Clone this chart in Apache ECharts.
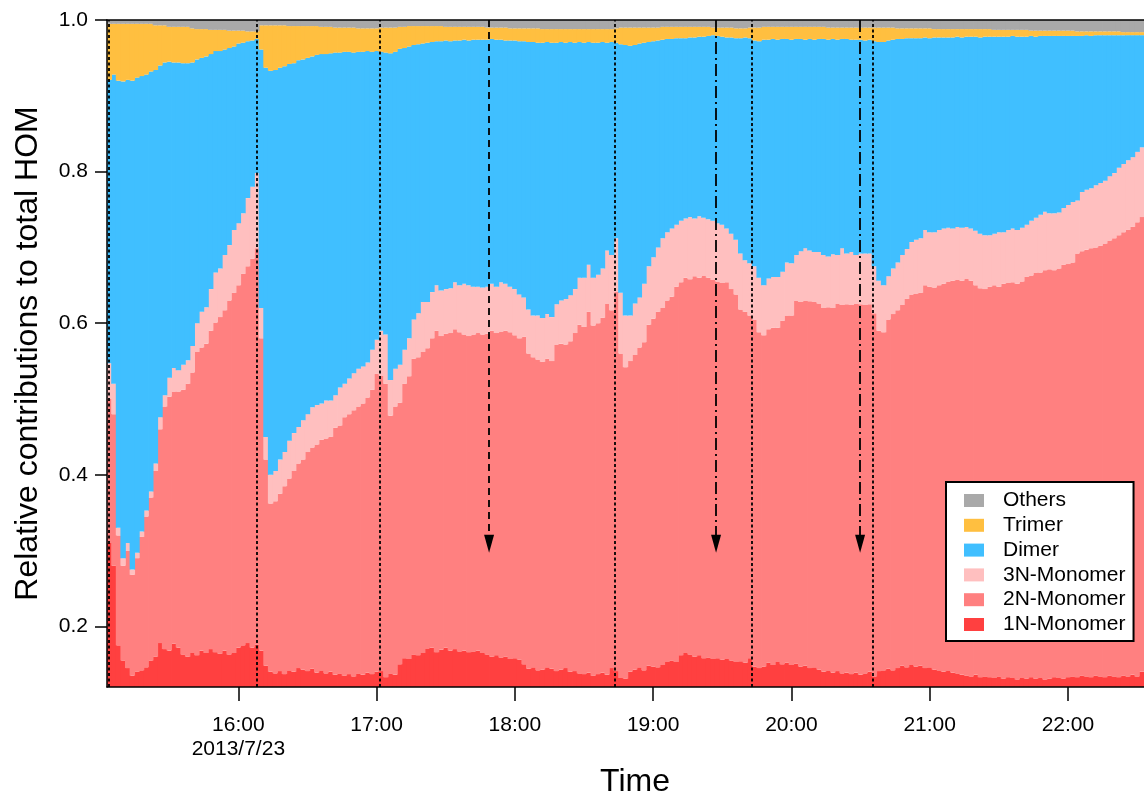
<!DOCTYPE html>
<html><head><meta charset="utf-8">
<script src="https://cdn.jsdelivr.net/npm/echarts@6/dist/echarts.min.js"></script>
<style>html,body{margin:0;padding:0;background:#fff}#c{width:1144px;height:794px}</style>
</head><body><div id="c"></div>
<script>
// Sampling grid: first sample 15:04, one sample every 2 minutes (minutes counted from 15:00)
const startMinute = 4;
const stepMinutes = 2;
const dateLabel = '2013/7/23';

// Cumulative fractions (top edge of each stacked group)
const cum1N = [
0.31,0.28,0.175,0.155,0.145,0.135,0.14,0.142,0.146,0.155,
0.16,0.178,0.17,0.168,0.177,0.172,0.163,0.16,0.165,0.162,
0.168,0.165,0.17,0.166,0.164,0.168,0.163,0.165,0.172,0.175,
0.178,0.172,0.176,0.168,0.148,0.14,0.138,0.141,0.137,0.142,
0.14,0.145,0.143,0.141,0.144,0.139,0.142,0.138,0.14,0.136,
0.138,0.135,0.137,0.134,0.138,0.136,0.139,0.137,0.14,0.141,
0.133,0.138,0.136,0.15,0.158,0.157,0.163,0.162,0.165,0.171,
0.172,0.166,0.169,0.172,0.168,0.17,0.167,0.168,0.166,0.167,
0.168,0.165,0.163,0.16,0.162,0.159,0.16,0.157,0.158,0.156,
0.15,0.144,0.146,0.142,0.143,0.146,0.144,0.141,0.143,0.145,
0.14,0.141,0.138,0.137,0.139,0.135,0.137,0.139,0.136,0.145,
0.141,0.132,0.131,0.14,0.143,0.146,0.142,0.148,0.147,0.146,
0.149,0.153,0.155,0.153,0.162,0.165,0.163,0.16,0.162,0.158,
0.159,0.157,0.158,0.156,0.157,0.155,0.153,0.154,0.152,0.158,
0.147,0.145,0.147,0.152,0.149,0.153,0.15,0.152,0.149,0.151,
0.147,0.148,0.145,0.146,0.143,0.14,0.142,0.139,0.141,0.138,
0.139,0.137,0.139,0.136,0.138,0.14,0.134,0.141,0.142,0.144,
0.142,0.145,0.148,0.146,0.149,0.147,0.148,0.145,0.146,0.143,
0.142,0.14,0.142,0.139,0.138,0.136,0.135,0.134,0.136,0.133,
0.134,0.133,0.132,0.134,0.131,0.133,0.132,0.13,0.132,0.131,
0.133,0.131,0.132,0.13,0.131,0.133,0.132,0.131,0.133,0.134,
0.133,0.135,0.134,0.133,0.135,0.134,0.133,0.135,0.134,0.133,
0.135,0.134,0.136,0.134,0.14];

const cum2N = [
0.50,0.48,0.32,0.28,0.30,0.268,0.29,0.318,0.345,0.37,
0.405,0.46,0.49,0.503,0.51,0.51,0.512,0.52,0.535,0.562,
0.568,0.573,0.59,0.601,0.608,0.617,0.63,0.64,0.65,0.665,
0.675,0.685,0.699,0.58,0.42,0.362,0.365,0.375,0.385,0.395,
0.405,0.415,0.42,0.43,0.436,0.44,0.446,0.448,0.45,0.462,
0.465,0.476,0.48,0.485,0.49,0.494,0.502,0.512,0.533,0.531,
0.52,0.478,0.49,0.495,0.52,0.53,0.553,0.555,0.562,0.567,
0.58,0.59,0.583,0.586,0.587,0.592,0.588,0.585,0.583,0.585,
0.587,0.585,0.586,0.59,0.587,0.589,0.59,0.588,0.584,0.58,
0.582,0.56,0.555,0.552,0.549,0.553,0.55,0.572,0.573,0.572,
0.576,0.587,0.598,0.595,0.615,0.597,0.6,0.607,0.626,0.617,
0.641,0.56,0.542,0.55,0.558,0.568,0.575,0.598,0.606,0.615,
0.62,0.63,0.635,0.648,0.654,0.66,0.658,0.662,0.66,0.663,
0.66,0.657,0.655,0.653,0.654,0.645,0.638,0.618,0.615,0.61,
0.605,0.588,0.584,0.592,0.594,0.594,0.603,0.61,0.61,0.63,
0.628,0.63,0.629,0.628,0.626,0.62,0.621,0.62,0.626,0.624,
0.625,0.624,0.626,0.625,0.624,0.625,0.613,0.59,0.588,0.605,
0.612,0.617,0.624,0.632,0.638,0.639,0.64,0.65,0.648,0.647,
0.65,0.652,0.655,0.656,0.657,0.656,0.659,0.656,0.65,0.646,
0.645,0.648,0.65,0.648,0.652,0.653,0.654,0.652,0.655,0.661,
0.663,0.667,0.667,0.67,0.671,0.67,0.672,0.677,0.678,0.68,
0.692,0.695,0.697,0.699,0.70,0.702,0.705,0.709,0.712,0.716,
0.72,0.723,0.727,0.733,0.74];

const cum3N = [
0.547,0.52,0.33,0.29,0.31,0.275,0.297,0.325,0.353,0.378,
0.415,0.476,0.505,0.528,0.541,0.538,0.545,0.551,0.57,0.60,
0.615,0.621,0.645,0.667,0.672,0.69,0.703,0.723,0.732,0.745,
0.765,0.78,0.798,0.62,0.45,0.40,0.405,0.42,0.43,0.445,
0.455,0.463,0.472,0.48,0.489,0.492,0.494,0.498,0.498,0.505,
0.515,0.52,0.527,0.534,0.54,0.543,0.548,0.565,0.578,0.59,
0.585,0.525,0.54,0.545,0.565,0.58,0.605,0.613,0.628,0.628,
0.641,0.65,0.643,0.645,0.646,0.654,0.65,0.652,0.65,0.648,
0.648,0.647,0.648,0.652,0.648,0.654,0.652,0.648,0.645,0.638,
0.634,0.618,0.61,0.61,0.607,0.612,0.608,0.625,0.63,0.632,
0.637,0.645,0.66,0.66,0.677,0.66,0.664,0.672,0.696,0.69,
0.712,0.64,0.61,0.61,0.626,0.634,0.652,0.675,0.687,0.70,
0.712,0.72,0.725,0.73,0.735,0.738,0.74,0.738,0.741,0.739,
0.737,0.735,0.732,0.73,0.725,0.718,0.71,0.692,0.683,0.679,
0.675,0.66,0.65,0.659,0.661,0.661,0.668,0.68,0.679,0.69,
0.695,0.699,0.696,0.694,0.694,0.69,0.688,0.691,0.69,0.699,
0.692,0.694,0.69,0.692,0.692,0.692,0.675,0.656,0.65,0.662,
0.672,0.68,0.69,0.698,0.707,0.71,0.712,0.723,0.72,0.72,
0.723,0.725,0.726,0.725,0.727,0.726,0.727,0.725,0.722,0.718,
0.716,0.716,0.718,0.72,0.72,0.723,0.725,0.723,0.726,0.73,
0.735,0.739,0.743,0.747,0.745,0.745,0.746,0.752,0.756,0.76,
0.762,0.773,0.776,0.778,0.782,0.785,0.788,0.794,0.798,0.805,
0.81,0.815,0.819,0.826,0.832];

const cumDimer = [
0.921,0.928,0.92,0.919,0.921,0.92,0.924,0.926,0.928,0.932,
0.934,0.94,0.944,0.945,0.944,0.944,0.943,0.943,0.944,0.948,
0.95,0.952,0.955,0.959,0.959,0.961,0.963,0.965,0.969,0.97,
0.972,0.973,0.975,0.961,0.937,0.933,0.934,0.937,0.939,0.942,
0.943,0.947,0.948,0.95,0.952,0.954,0.955,0.955,0.956,0.957,
0.957,0.958,0.958,0.957,0.958,0.958,0.959,0.958,0.959,0.958,
0.957,0.956,0.958,0.962,0.963,0.965,0.967,0.968,0.969,0.97,
0.971,0.972,0.972,0.973,0.972,0.973,0.973,0.974,0.973,0.974,
0.974,0.974,0.974,0.975,0.974,0.974,0.973,0.973,0.973,0.972,
0.972,0.971,0.971,0.97,0.97,0.971,0.97,0.97,0.971,0.97,
0.971,0.97,0.971,0.97,0.971,0.97,0.97,0.971,0.97,0.971,
0.97,0.968,0.967,0.966,0.967,0.969,0.97,0.971,0.972,0.973,
0.974,0.975,0.975,0.976,0.976,0.976,0.977,0.977,0.978,0.978,
0.979,0.98,0.979,0.978,0.977,0.977,0.976,0.976,0.977,0.976,
0.973,0.972,0.974,0.974,0.975,0.974,0.975,0.975,0.974,0.975,
0.975,0.974,0.975,0.974,0.975,0.975,0.974,0.975,0.974,0.975,
0.975,0.974,0.974,0.974,0.973,0.974,0.972,0.971,0.971,0.973,
0.974,0.975,0.975,0.976,0.976,0.976,0.976,0.977,0.976,0.977,
0.977,0.977,0.977,0.977,0.978,0.977,0.978,0.978,0.978,0.977,
0.978,0.978,0.978,0.978,0.978,0.978,0.979,0.978,0.978,0.978,
0.979,0.978,0.979,0.979,0.979,0.979,0.979,0.979,0.979,0.979,
0.979,0.979,0.98,0.979,0.98,0.98,0.98,0.98,0.98,0.98,
0.98,0.98,0.98,0.98,0.98];

const cumTrimer = [
0.995,0.995,0.995,0.995,0.995,0.995,0.995,0.995,0.995,0.995,
0.993,0.993,0.993,0.991,0.991,0.991,0.991,0.991,0.989,0.988,
0.988,0.988,0.987,0.987,0.987,0.987,0.986,0.986,0.986,0.986,
0.985,0.985,0.985,0.993,0.993,0.993,0.993,0.993,0.993,0.992,
0.992,0.992,0.992,0.992,0.992,0.992,0.991,0.991,0.991,0.99,
0.99,0.99,0.99,0.99,0.989,0.989,0.989,0.989,0.989,0.99,
0.99,0.99,0.99,0.991,0.991,0.992,0.992,0.992,0.992,0.992,
0.992,0.992,0.992,0.991,0.991,0.991,0.991,0.991,0.991,0.991,
0.991,0.991,0.99,0.99,0.99,0.99,0.99,0.989,0.989,0.989,
0.989,0.989,0.989,0.989,0.988,0.988,0.988,0.988,0.988,0.988,
0.988,0.988,0.988,0.988,0.988,0.988,0.988,0.988,0.988,0.988,
0.989,0.99,0.99,0.99,0.99,0.99,0.99,0.99,0.99,0.99,
0.991,0.991,0.991,0.991,0.991,0.991,0.991,0.991,0.991,0.991,
0.991,0.99,0.99,0.99,0.99,0.99,0.989,0.989,0.989,0.99,
0.99,0.99,0.991,0.991,0.991,0.991,0.991,0.991,0.991,0.991,
0.991,0.991,0.991,0.991,0.991,0.991,0.99,0.99,0.99,0.99,
0.99,0.99,0.99,0.99,0.99,0.99,0.99,0.99,0.99,0.99,
0.99,0.989,0.989,0.989,0.989,0.989,0.989,0.989,0.989,0.988,
0.988,0.988,0.988,0.988,0.988,0.988,0.988,0.988,0.988,0.988,
0.988,0.988,0.987,0.987,0.987,0.987,0.987,0.987,0.987,0.987,
0.986,0.986,0.986,0.986,0.986,0.986,0.986,0.986,0.986,0.986,
0.985,0.985,0.985,0.985,0.985,0.985,0.985,0.985,0.985,0.985,
0.984,0.984,0.984,0.984,0.984];

const seriesNames = ['1N-Monomer','2N-Monomer','3N-Monomer','Dimer','Trimer','Others'];
const seriesColors = ['#FF4040','#FF8080','#FFBFBF','#40BFFF','#FFBF40','#A9A9A9'];
const legendOrder = ['Others','Trimer','Dimer','3N-Monomer','2N-Monomer','1N-Monomer'];
const yTickValues = [0.2, 0.4, 0.6, 0.8, 1.0];
// Event markers, minutes after 15:00
const eventLines = [3.9, 68.1, 121.5, 223.4, 282.9, 335.4];
const arrowLines = [168.8, 267.3, 329.8];
const arrowEnd = 0.309;

const FONT = 'Liberation Sans, Arial, sans-serif';
const pad = n => String(n).padStart(2, '0');
const categories = cum1N.map((_, i) => {
  const m = 15 * 60 + startMinute + i * stepMinutes;
  return pad(Math.floor(m / 60)) + ':' + pad(m % 60);
});
const firstHourLabel = categories.find(c => c.endsWith(':00'));
const tops = [cum1N, cum2N, cum3N, cumDimer, cumTrimer, cum1N.map(() => 1)];
const shares = tops.map((arr, k) => arr.map((v, i) => +(v - (k ? tops[k - 1][i] : 0)).toFixed(4)));

const isHour = (i, v) => String(v).endsWith(':00');
const black = {color: '#000', width: 1.5};

const barSeries = seriesNames.map((name, k) => ({
  name, type: 'bar', stack: 'total', data: shares[k],
  barWidth: '118%',
  itemStyle: {color: seriesColors[k], borderWidth: 0},
  emphasis: {disabled: true}
}));

const markData = eventLines.map(t => ({xAxis: t, lineStyle: {color: '#000', width: 1.8, type: [3, 2.5]}}))
  .concat(arrowLines.map((t, k) => [
    {coord: [t, 1.0], symbol: 'none', lineStyle: {color: '#000', width: 1.8, type: k === 0 ? [7, 5] : [12, 4, 2, 4]}},
    {coord: [t, arrowEnd], symbol: 'triangle', symbolSize: [10, 18]}
  ]));

const chart = echarts.init(document.getElementById('c'), null, {renderer: 'canvas'});
chart.setOption({
  animation: false,
  backgroundColor: '#fff',
  textStyle: {fontFamily: FONT, color: '#000'},
  grid: {left: 107, right: 0, top: 20, bottom: 107, containLabel: false, outerBoundsMode: 'none'},
  legend: {
    orient: 'vertical', left: 946, top: 482, data: legendOrder, icon: 'rect',
    itemWidth: 20, itemHeight: 13, itemGap: 3.8, selectedMode: false,
    backgroundColor: '#fff', borderColor: '#000', borderWidth: 2, borderRadius: 0,
    padding: [8, 8, 6, 18],
    textStyle: {fontSize: 21, lineHeight: 21, color: '#000', fontFamily: FONT, padding: [0, 0, 0, 14]}
  },
  xAxis: [{
    type: 'category', data: categories, boundaryGap: true, z: 10,
    axisLine: {show: true, onZero: false, lineStyle: black},
    axisTick: {show: true, alignWithLabel: true, interval: isHour, length: 14, lineStyle: black},
    axisLabel: {interval: isHour, fontSize: 21, color: '#000', margin: 26, lineHeight: 24, fontFamily: FONT,
      formatter: v => v === firstHourLabel ? v + '\n' + dateLabel : v},
    splitLine: {show: false},
    name: 'Time', nameLocation: 'middle', nameGap: 73,
    nameTextStyle: {fontSize: 32, color: '#000', fontFamily: FONT, padding: [0, 0, 0, 19]}
  }, {
    type: 'value', position: 'top', min: startMinute - stepMinutes / 2,
    max: startMinute + (cum1N.length - 0.5) * stepMinutes, z: 10,
    axisLine: {show: true, onZero: false, lineStyle: black},
    axisTick: {show: false}, axisLabel: {show: false}, splitLine: {show: false}
  }],
  yAxis: {
    type: 'value', min: 0.12, max: 1.0, z: 10,
    axisLine: {show: true, lineStyle: black},
    axisTick: {show: true, length: 12, customValues: yTickValues, lineStyle: black},
    axisLabel: {customValues: yTickValues, formatter: v => Number(v).toFixed(1), fontSize: 21, margin: 19, color: '#000', fontFamily: FONT},
    splitLine: {show: false},
    name: 'Relative contributions to total HOM', nameLocation: 'middle', nameGap: 63,
    nameTextStyle: {fontSize: 32, color: '#000', fontFamily: FONT}
  },
  series: barSeries.concat([{
    name: 'events', type: 'line', xAxisIndex: 1, yAxisIndex: 0, data: [], z: 5, silent: true,
    markLine: {silent: true, animation: false, symbol: ['none', 'none'], label: {show: false},
      emphasis: {disabled: true}, data: markData}
  }])
});
</script></body></html>
